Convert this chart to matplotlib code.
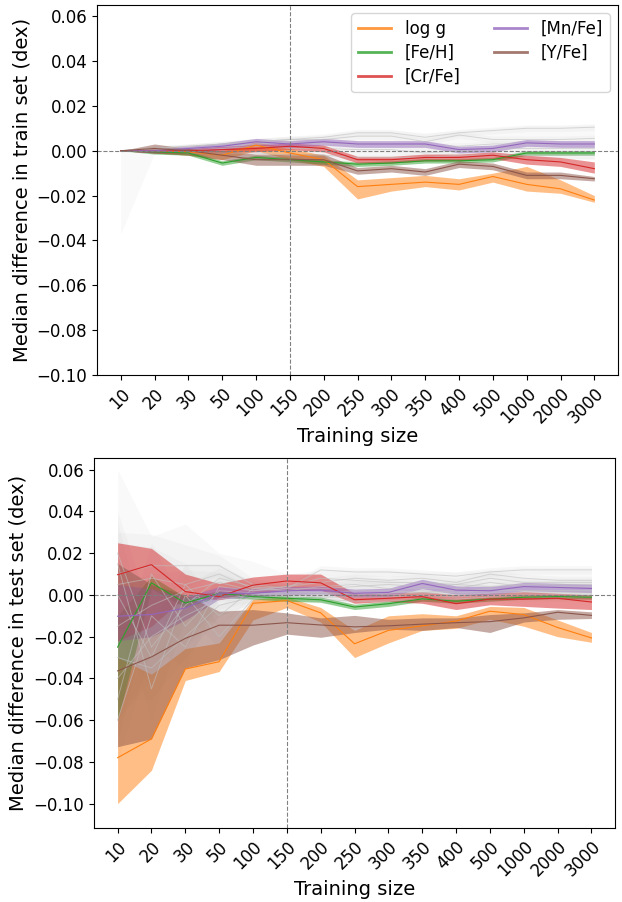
import numpy as np
import matplotlib.pyplot as plt

sizes = ['10', '20', '30', '50', '100', '150', '200', '250', '300', '350',
         '400', '500', '1000', '2000', '3000']
labels = ['log g', '[Fe/H]', '[Cr/Fe]', '[Mn/Fe]', '[Y/Fe]']
colors = ['tab:orange', 'tab:green', 'tab:red', 'tab:purple', 'tab:brown']

# ---- train set: median and percentile band per label
train_med = {
    'log g':   [0, 0, -0.0005, -0.002, 0.0025, -0.001, -0.004, -0.016, -0.015, -0.014, -0.015, -0.0115, -0.015, -0.017, -0.022],
    '[Fe/H]':  [0, -0.0005, -0.001, -0.0055, -0.003, -0.004, -0.005, -0.006, -0.0055, -0.0045, -0.0045, -0.004, -0.001, -0.001, -0.001],
    '[Cr/Fe]': [0, 0, 0, 0.0005, 0.001, 0.002, 0.001, -0.004, -0.004, -0.003, -0.003, -0.002, -0.004, -0.005, -0.008],
    '[Mn/Fe]': [0, 0, 0.001, 0.002, 0.004, 0.003, 0.004, 0.003, 0.003, 0.003, 0.0005, 0.001, 0.0035, 0.003, 0.003],
    '[Y/Fe]':  [0, 0.001, 0, -0.002, -0.004, -0.004, -0.004, -0.009, -0.008, -0.0095, -0.006, -0.007, -0.011, -0.011, -0.0125],
}
train_lo = {
    'log g':   [0, -0.001, -0.002, -0.004, 0.0, -0.004, -0.007, -0.0215, -0.018, -0.016, -0.0175, -0.014, -0.018, -0.019, -0.023],
    '[Fe/H]':  [0, -0.0015, -0.002, -0.0065, -0.004, -0.005, -0.006, -0.007, -0.0065, -0.0055, -0.0055, -0.005, -0.002, -0.002, -0.002],
    '[Cr/Fe]': [0, -0.001, -0.001, -0.001, -0.0005, 0.0005, -0.0005, -0.0055, -0.0055, -0.0045, -0.0045, -0.0035, -0.006, -0.007, -0.010],
    '[Mn/Fe]': [0, -0.001, 0, 0.0005, 0.0025, 0.0015, 0.0025, 0.0015, 0.0015, 0.0015, -0.001, -0.0005, 0.002, 0.0015, 0.0015],
    '[Y/Fe]':  [0, -0.001, -0.002, -0.004, -0.0065, -0.0065, -0.0065, -0.0105, -0.0095, -0.011, -0.0075, -0.0085, -0.0125, -0.0125, -0.0135],
}
train_hi = {
    'log g':   [0, 0.001, 0.001, 0.0, 0.004, 0.001, -0.002, -0.013, -0.012, -0.011, -0.0125, -0.010, -0.007, -0.013, -0.020],
    '[Fe/H]':  [0, 0.0005, 0.0, -0.0045, -0.002, -0.003, -0.004, -0.005, -0.0045, -0.0035, -0.0035, -0.003, 0.0, 0.0, 0.0],
    '[Cr/Fe]': [0, 0.001, 0.001, 0.002, 0.0025, 0.0035, 0.0025, -0.0025, -0.0025, -0.0015, -0.0015, -0.0005, -0.002, -0.003, -0.005],
    '[Mn/Fe]': [0, 0.001, 0.002, 0.0035, 0.0055, 0.0045, 0.0055, 0.0045, 0.0045, 0.0045, 0.002, 0.0025, 0.005, 0.0045, 0.0045],
    '[Y/Fe]':  [0, 0.003, 0.001, 0.0, -0.0015, -0.0015, -0.0015, -0.0075, -0.0065, -0.008, -0.0045, -0.0055, -0.0095, -0.0095, -0.0115],
}

# ---- test set
test_med = {
    'log g':   [-0.078, -0.069, -0.0355, -0.032, -0.004, -0.0027, -0.0086, -0.0234, -0.017, -0.0148, -0.0125, -0.0078, -0.0094, -0.0156, -0.0206],
    '[Fe/H]':  [-0.025, 0.0058, -0.0039, 0.0008, -0.0008, -0.0016, -0.0023, -0.0058, -0.0042, -0.0019, -0.003, -0.002, -0.0011, -0.0008, -0.0011],
    '[Cr/Fe]': [0.0097, 0.0145, 0.0016, -0.0008, 0.0047, 0.0067, 0.0058, -0.0023, -0.0016, -0.0008, -0.0042, -0.002, -0.002, -0.0016, -0.0034],
    '[Mn/Fe]': [-0.0102, -0.0094, -0.0063, 0.0008, 0.0008, 0.002, 0.0023, 0.0008, 0.0012, 0.0055, 0.0023, 0.002, 0.004, 0.0036, 0.0031],
    '[Y/Fe]':  [-0.0364, -0.0297, -0.0208, -0.0145, -0.0145, -0.0133, -0.0144, -0.0153, -0.0148, -0.014, -0.0133, -0.0128, -0.011, -0.0083, -0.0098],
}
test_lo = {
    'log g':   [-0.100, -0.084, -0.041, -0.0367, -0.012, -0.006, -0.013, -0.030, -0.023, -0.017, -0.016, -0.0117, -0.015, -0.020, -0.0227],
    '[Fe/H]':  [-0.060, 0.003, -0.006, -0.001, -0.002, -0.003, -0.0035, -0.007, -0.0055, -0.003, -0.004, -0.003, -0.002, -0.0018, -0.002],
    '[Cr/Fe]': [-0.022, -0.015, -0.001, -0.0023, 0.0008, 0.0023, 0.0023, -0.004, -0.0031, -0.004, -0.007, -0.0047, -0.0055, -0.0063, -0.007],
    '[Mn/Fe]': [-0.022, -0.020, -0.012, -0.002, -0.001, 0.0, 0.0005, -0.001, -0.0008, 0.003, 0.0003, 0.0, 0.002, 0.0016, 0.0011],
    '[Y/Fe]':  [-0.0727, -0.069, -0.035, -0.031, -0.024, -0.0188, -0.0203, -0.018, -0.0164, -0.017, -0.0156, -0.018, -0.013, -0.0117, -0.0113],
}
test_hi = {
    'log g':   [-0.030, -0.038, -0.0257, -0.023, -0.002, -0.001, -0.006, -0.017, -0.010, -0.009, -0.010, -0.0055, -0.006, -0.012, -0.018],
    '[Fe/H]':  [-0.010, 0.009, -0.001, 0.002, 0.0005, -0.0005, -0.001, -0.0045, -0.003, -0.001, -0.002, -0.001, 0.0, 0.0002, 0.0],
    '[Cr/Fe]': [0.025, 0.0223, 0.010, 0.0055, 0.0086, 0.010, 0.010, 0.0008, 0.0008, 0.0016, 0.0, 0.0008, 0.0016, 0.0008, 0.0],
    '[Mn/Fe]': [0.005, 0.003, -0.001, 0.004, 0.003, 0.004, 0.0043, 0.0028, 0.0032, 0.0075, 0.0043, 0.004, 0.006, 0.0056, 0.0051],
    '[Y/Fe]':  [0.015, 0.005, 0.0, -0.0078, -0.007, -0.0086, -0.011, -0.0098, -0.0117, -0.011, -0.011, -0.0094, -0.0086, -0.007, -0.0081],
}

# ---- remaining labels, drawn in grey
train_gray = [
    [0, 0.001, 0.002, 0.003, 0.004, 0.005, 0.006, 0.008, 0.008, 0.006, 0.008, 0.009, 0.010, 0.010, 0.0105],
    [0, 0.001, 0.002, 0.003, 0.004, 0.005, 0.005, 0.0065, 0.0065, 0.004, 0.007, 0.005, 0.005, 0.005, 0.0055],
    [0, 0.0005, 0.001, 0.002, 0.003, 0.004, 0.003, 0.003, 0.003, 0.002, 0.002, 0.003, 0.003, 0.003, 0.003],
    [0, 0.0, 0.0, 0.001, 0.002, 0.001, 0.001, 0.0005, 0.0005, -0.001, 0.0, 0.001, 0.001, 0.001, 0.001],
    [0, 0.0, -0.001, -0.001, -0.001, -0.002, -0.002, -0.003, -0.003, -0.003, -0.002, -0.002, -0.002, -0.002, -0.002],
]
train_gray_err = [0, 0.001, 0.001, 0.0012, 0.0015, 0.0015, 0.0015, 0.0015, 0.0015, 0.0015, 0.0015, 0.0015, 0.0015, 0.0015, 0.0015]
train_env_lo = [-0.037, -0.001, -0.002, -0.003, -0.003, -0.004, -0.004, -0.005, -0.005, -0.005, -0.004, -0.004, -0.004, -0.004, -0.004]
train_env_hi = [0, 0.002, 0.003, 0.004, 0.005, 0.006, 0.007, 0.009, 0.009, 0.008, 0.009, 0.010, 0.011, 0.011, 0.0115]

test_gray = [
    [0.010, 0.014, 0.014, 0.014, 0.005, 0.003, 0.012, 0.011, 0.011, 0.010, 0.009, 0.011, 0.012, 0.012, 0.012],
    [0.005, 0.008, 0.005, 0.010, 0.003, 0.004, 0.006, 0.008, 0.007, 0.008, 0.006, 0.010, 0.008, 0.007, 0.007],
    [-0.015, -0.005, 0.002, 0.006, 0.002, 0.003, 0.003, 0.004, 0.005, 0.004, 0.005, 0.004, 0.005, 0.005, 0.005],
    [-0.040, -0.020, -0.010, -0.002, 0.0, 0.001, 0.001, 0.0, 0.001, 0.002, 0.001, 0.002, 0.002, 0.002, 0.002],
    [-0.030, -0.035, -0.020, -0.005, -0.001, -0.001, -0.002, -0.003, -0.003, -0.002, -0.002, -0.001, -0.001, -0.001, -0.001],
    [0.020, -0.025, -0.005, 0.008, 0.004, 0.002, 0.004, 0.005, 0.003, 0.003, 0.003, 0.006, 0.004, 0.004, 0.004],
    [-0.050, 0.010, -0.015, 0.002, 0.001, 0.0, 0.0, 0.001, 0.0, 0.001, 0.0, 0.001, 0.001, 0.001, 0.001],
    [0.0, -0.030, 0.005, -0.010, 0.003, 0.002, 0.001, 0.002, 0.002, 0.001, 0.002, 0.003, 0.002, 0.002, 0.002],
    [-0.060, -0.010, -0.025, 0.004, 0.002, 0.004, 0.008, 0.007, 0.006, 0.006, 0.005, 0.008, 0.006, 0.006, 0.006],
    [0.015, -0.045, 0.0, -0.020, -0.002, 0.0, -0.001, -0.001, -0.001, 0.0, -0.001, 0.0, 0.0, 0.0, 0.0],
]
test_gray_err = [0.02, 0.015, 0.01, 0.005, 0.003, 0.002, 0.002, 0.002, 0.002, 0.002, 0.002, 0.002, 0.002, 0.002, 0.002]
test_env_lo = [-0.060, -0.040, -0.025, -0.010, -0.004, -0.003, -0.003, -0.004, -0.004, -0.003, -0.003, -0.002, -0.002, -0.002, -0.002]
test_env_hi = [0.060, 0.028, 0.034, 0.020, 0.016, 0.010, 0.012, 0.012, 0.012, 0.011, 0.011, 0.012, 0.013, 0.013, 0.013]

fig = plt.figure(figsize=(6.22, 9.02), dpi=100)
ax1 = fig.add_axes([0.156, 0.5843, 0.8376, 0.4102])
ax2 = fig.add_axes([0.151, 0.082, 0.838, 0.4102])

x = np.arange(len(sizes))


def draw(ax, med, lo, hi, gray, gray_err, env_lo, env_hi):
    ax.fill_between(x, env_lo, env_hi, color='lightgray', alpha=0.12, lw=0)
    for g in gray:
        g = np.array(g)
        ax.fill_between(x, g - gray_err, g + gray_err, color='lightgray', alpha=0.15, lw=0)
    for lab, c in zip(labels, colors):
        ax.fill_between(x, lo[lab], hi[lab], color=c, alpha=0.5, lw=0)
    # grey medians sit on top of the coloured bands
    for g in gray:
        ax.plot(x, g, color='silver', lw=0.7, alpha=0.6)
    for lab, c in zip(labels, colors):
        ax.plot(x, med[lab], color=c, lw=0.8)
        ax.plot([], [], color=c, lw=2, alpha=0.8, label=lab)
    ax.axhline(0, color='gray', ls='--', lw=0.8)
    ax.axvline(5, color='gray', ls='--', lw=0.8)
    ax.set_xticks(x)
    ax.set_xticklabels(sizes, rotation=45, ha='right', rotation_mode='anchor')
    ax.set_xlim(-0.7, 14.7)
    ax.set_xlabel('Training size', fontsize=14, labelpad=0)
    ax.tick_params(labelsize=12)


draw(ax1, train_med, train_lo, train_hi, train_gray, train_gray_err, train_env_lo, train_env_hi)
ax1.set_ylim(-0.10, 0.065)
ax1.set_yticks(np.arange(-0.10, 0.061, 0.02))
ax1.set_ylabel('Median difference in train set (dex)', fontsize=14)
ax1.legend(ncol=2, fontsize=12, loc='upper right', labelspacing=0.35)

draw(ax2, test_med, test_lo, test_hi, test_gray, test_gray_err, test_env_lo, test_env_hi)
ax2.set_ylim(-0.1117, 0.0656)
ax2.set_yticks(np.arange(-0.10, 0.061, 0.02))
ax2.set_ylabel('Median difference in test set (dex)', fontsize=14)

fig.savefig('out.png', dpi=100)
